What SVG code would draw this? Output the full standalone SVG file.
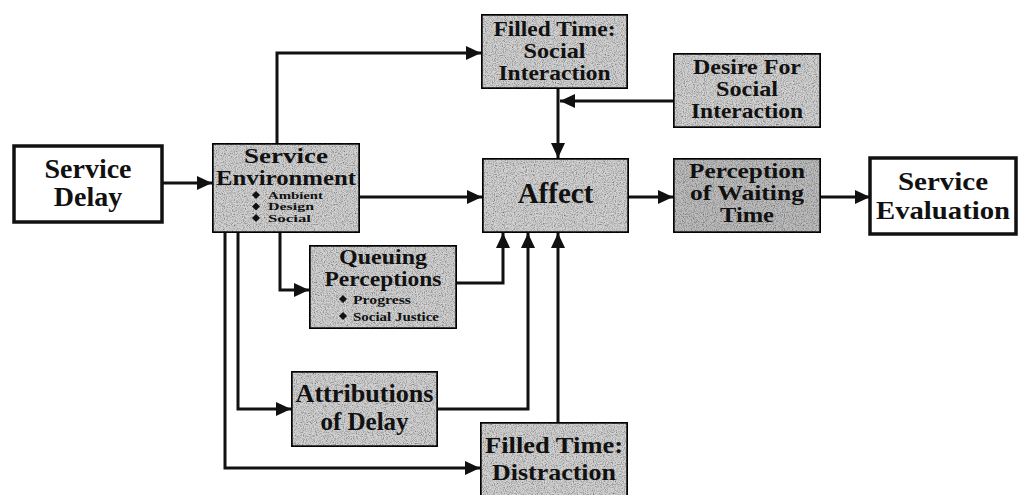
<svg xmlns="http://www.w3.org/2000/svg" width="1019" height="495" viewBox="0 0 1019 495">
<style>
.box{stroke:#111;stroke-width:3.5;fill:#d2d2d2;filter:url(#grain)}
.dark{fill:#bdbdbd}
.white{fill:#fff;filter:none}
.t{font-family:"Liberation Serif","Times New Roman",serif;font-weight:bold;fill:#111;text-anchor:middle}
.b{font-family:"Liberation Serif","Times New Roman",serif;font-weight:bold;fill:#111;text-anchor:start}
.c{fill:none;stroke:#111;stroke-width:3;marker-end:url(#ah)}
.dia{fill:#111}
</style>
<defs>
<marker id="ah" markerWidth="16" markerHeight="16" refX="15" refY="8" orient="auto" markerUnits="userSpaceOnUse">
<path d="M0,1 L15,8 L0,15 z" fill="#111"/>
</marker>
<filter id="grain" x="0" y="0" width="100%" height="100%">
<feTurbulence type="fractalNoise" baseFrequency="0.9" numOctaves="2" seed="4" result="n"/>
<feColorMatrix in="n" type="matrix" values="0 0 0 0 0  0 0 0 0 0  0 0 0 0 0  1.6 0 0 0 -0.65" result="dots"/>
<feComposite in="dots" in2="SourceGraphic" operator="in" result="d2"/>
<feMerge><feMergeNode in="SourceGraphic"/><feMergeNode in="d2"/></feMerge>
</filter>
</defs>
<rect width="1019" height="495" fill="#fff"/>

<g id="connectors">
<path class="c" d="M162,183 H212"/>
<path class="c" d="M277,143 V53 H481"/>
<path class="c" d="M673,101 H560"/>
<path class="c" d="M558,89 V158"/>
<path class="c" d="M360,197 H482"/>
<path class="c" d="M629,197 H673"/>
<path class="c" d="M821,197 H870"/>
<path class="c" d="M280,233 V290 H309"/>
<path class="c" d="M457,283 H503 V233"/>
<path class="c" d="M238,233 V409 H291"/>
<path class="c" d="M438,409 H528 V233"/>
<path class="c" d="M225,233 V468 H480"/>
<path class="c" d="M558,422 V233"/>
</g>

<g id="service-delay">
<rect class="box white" x="14" y="146" width="148" height="76"/>
<text class="t" x="88" y="178" font-size="28">Service</text>
<text class="t" x="88" y="206" font-size="28">Delay</text>
</g>

<g id="service-environment">
<rect class="box" x="212" y="143" width="148" height="90"/>
<text class="t" x="286" y="163" font-size="20" textLength="84" lengthAdjust="spacingAndGlyphs">Service</text>
<text class="t" x="286" y="185" font-size="20" textLength="140" lengthAdjust="spacingAndGlyphs">Environment</text>
<path class="dia" d="M256,191 l4,4 l-4,4 l-4,-4 z M256,202.5 l4,4 l-4,4 l-4,-4 z M256,214 l4,4 l-4,4 l-4,-4 z"/>
<text class="b" x="268" y="198.5" font-size="10" textLength="55" lengthAdjust="spacingAndGlyphs">Ambient</text>
<text class="b" x="268" y="210" font-size="10" textLength="46" lengthAdjust="spacingAndGlyphs">Design</text>
<text class="b" x="268" y="221.5" font-size="10" textLength="43" lengthAdjust="spacingAndGlyphs">Social</text>
</g>

<g id="filled-time-social">
<rect class="box" x="481" y="14" width="147" height="75"/>
<text class="t" x="554.5" y="36" font-size="21" textLength="122" lengthAdjust="spacingAndGlyphs">Filled Time:</text>
<text class="t" x="554.5" y="58" font-size="21" textLength="62" lengthAdjust="spacingAndGlyphs">Social</text>
<text class="t" x="554.5" y="80" font-size="21" textLength="112" lengthAdjust="spacingAndGlyphs">Interaction</text>
</g>

<g id="desire-social">
<rect class="box" x="673" y="53" width="148" height="75"/>
<text class="t" x="747" y="74" font-size="21" textLength="108" lengthAdjust="spacingAndGlyphs">Desire For</text>
<text class="t" x="747" y="96" font-size="21" textLength="62" lengthAdjust="spacingAndGlyphs">Social</text>
<text class="t" x="747" y="118" font-size="21" textLength="112" lengthAdjust="spacingAndGlyphs">Interaction</text>
</g>

<g id="affect">
<rect class="box" x="482" y="158" width="147" height="75"/>
<text class="t" x="555.5" y="203" font-size="29">Affect</text>
</g>

<g id="perception-waiting-time">
<rect class="box dark" x="673" y="158" width="148" height="75"/>
<text class="t" x="747" y="178" font-size="21" textLength="116" lengthAdjust="spacingAndGlyphs">Perception</text>
<text class="t" x="747" y="200" font-size="21" textLength="114" lengthAdjust="spacingAndGlyphs">of Waiting</text>
<text class="t" x="747" y="222" font-size="21" textLength="54" lengthAdjust="spacingAndGlyphs">Time</text>
</g>

<g id="service-evaluation">
<rect class="box white" x="870" y="158" width="146" height="76"/>
<text class="t" x="943" y="190" font-size="26" textLength="90" lengthAdjust="spacingAndGlyphs">Service</text>
<text class="t" x="943" y="219" font-size="26" textLength="134" lengthAdjust="spacingAndGlyphs">Evaluation</text>
</g>

<g id="queuing-perceptions">
<rect class="box" x="309" y="245" width="148" height="84"/>
<text class="t" x="383" y="264" font-size="20" textLength="88" lengthAdjust="spacingAndGlyphs">Queuing</text>
<text class="t" x="383" y="286" font-size="20" textLength="117" lengthAdjust="spacingAndGlyphs">Perceptions</text>
<path class="dia" d="M343,295 l4,4 l-4,4 l-4,-4 z M343,312 l4,4 l-4,4 l-4,-4 z"/>
<text class="b" x="353" y="304" font-size="13" textLength="58" lengthAdjust="spacingAndGlyphs">Progress</text>
<text class="b" x="353" y="321" font-size="13" textLength="86" lengthAdjust="spacingAndGlyphs">Social Justice</text>
</g>

<g id="attributions-delay">
<rect class="box" x="291" y="371" width="147" height="76"/>
<text class="t" x="364.5" y="402" font-size="25" textLength="138" lengthAdjust="spacingAndGlyphs">Attributions</text>
<text class="t" x="364.5" y="430" font-size="25">of Delay</text>
</g>

<g id="filled-time-distraction">
<rect class="box" x="480" y="422" width="148" height="80"/>
<text class="t" x="554" y="453" font-size="24" textLength="138" lengthAdjust="spacingAndGlyphs">Filled Time:</text>
<text class="t" x="554" y="480" font-size="24" textLength="124" lengthAdjust="spacingAndGlyphs">Distraction</text>
</g>
</svg>
